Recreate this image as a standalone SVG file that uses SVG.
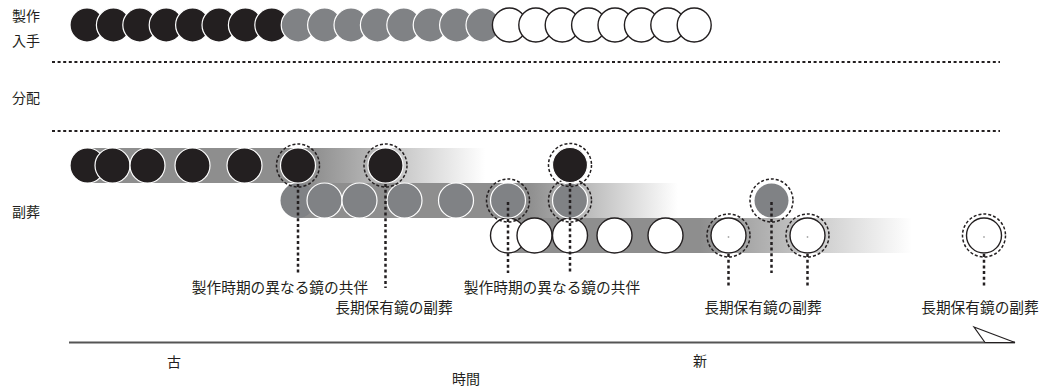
<svg xmlns="http://www.w3.org/2000/svg" width="1046" height="390" viewBox="0 0 1046 390">
<defs>
<style>
text{font-family:"Noto Sans CJK JP","Noto Sans",sans-serif;fill:#231f20}
.lbl{font-size:14px}
.note{font-size:14.7px;text-anchor:middle}
.b{fill:#231f20;stroke:#fff;stroke-width:1.2}
.g{fill:#808285;stroke:#fff;stroke-width:1.2}
.g0{fill:#808285}
.w{fill:#fff;stroke:#231f20;stroke-width:1.4}
.sep{stroke:#231f20;stroke-width:2;stroke-dasharray:3 2.6;fill:none}
.ring{fill:none;stroke:#231f20;stroke-width:1.5;stroke-dasharray:3 2}
.lead{stroke:#231f20;stroke-width:2.5;stroke-dasharray:3 2.7;fill:none}
</style>
<linearGradient id="gr1" gradientUnits="userSpaceOnUse" x1="312" y1="0" x2="485" y2="0"><stop offset="0" stop-color="#8e8e8e"/><stop offset="1" stop-color="#fff"/></linearGradient>
<linearGradient id="gr2" gradientUnits="userSpaceOnUse" x1="528" y1="0" x2="678" y2="0"><stop offset="0" stop-color="#8e8e8e"/><stop offset="1" stop-color="#fff"/></linearGradient>
<linearGradient id="gr3" gradientUnits="userSpaceOnUse" x1="700" y1="0" x2="912" y2="0"><stop offset="0" stop-color="#8e8e8e"/><stop offset="1" stop-color="#fff"/></linearGradient>
</defs>
<rect width="1046" height="390" fill="#fff"/>

<g id="row-labels">
<text class="lbl" x="12" y="21">製作</text>
<text class="lbl" x="12" y="46">入手</text>
<text class="lbl" x="12" y="103">分配</text>
<text class="lbl" x="12" y="217">副葬</text>
</g>

<g id="separators">
<line class="sep" x1="52" y1="62" x2="1000" y2="62"/>
<line class="sep" x1="52" y1="131" x2="1000" y2="131"/>
</g>

<g id="production-row">
<circle class="b" cx="87" cy="25" r="17"/>
<circle class="b" cx="113.4" cy="25" r="17"/>
<circle class="b" cx="139.8" cy="25" r="17"/>
<circle class="b" cx="166.2" cy="25" r="17"/>
<circle class="b" cx="192.6" cy="25" r="17"/>
<circle class="b" cx="219" cy="25" r="17"/>
<circle class="b" cx="245.4" cy="25" r="17"/>
<circle class="b" cx="271.8" cy="25" r="17"/>
<circle class="g" cx="298.2" cy="25" r="17"/>
<circle class="g" cx="324.6" cy="25" r="17"/>
<circle class="g" cx="351" cy="25" r="17"/>
<circle class="g" cx="377.4" cy="25" r="17"/>
<circle class="g" cx="403.8" cy="25" r="17"/>
<circle class="g" cx="430.2" cy="25" r="17"/>
<circle class="g" cx="456.6" cy="25" r="17"/>
<circle class="g" cx="483" cy="25" r="17"/>
<circle class="w" cx="509.4" cy="25" r="17"/>
<circle class="w" cx="535.8" cy="25" r="17"/>
<circle class="w" cx="562.2" cy="25" r="17"/>
<circle class="w" cx="588.6" cy="25" r="17"/>
<circle class="w" cx="615" cy="25" r="17"/>
<circle class="w" cx="641.4" cy="25" r="17"/>
<circle class="w" cx="667.8" cy="25" r="17"/>
<circle class="w" cx="694.2" cy="25" r="17"/>
</g>

<g id="burial-row-black">
<rect x="87" y="148" width="400" height="35" fill="url(#gr1)"/>
<circle class="b" cx="87.5" cy="165.5" r="17.5"/>
<circle class="b" cx="112.5" cy="165.5" r="17.5"/>
<circle class="b" cx="147.5" cy="165.5" r="17.5"/>
<circle class="b" cx="192.5" cy="165.5" r="17.5"/>
<circle class="b" cx="244.5" cy="165.5" r="17.5"/>
</g>

<g id="burial-row-gray">
<rect x="298" y="183" width="382" height="35" fill="url(#gr2)"/>
<circle class="g0" cx="298" cy="200.5" r="17.5"/>
<circle class="g" cx="324.5" cy="200.5" r="17.5"/>
<circle class="g" cx="359.5" cy="200.5" r="17.5"/>
<circle class="g" cx="404.5" cy="200.5" r="17.5"/>
<circle class="g" cx="456" cy="200.5" r="17.5"/>
</g>

<g id="burial-row-white">
<rect x="508" y="218" width="406" height="35" fill="url(#gr3)"/>
<circle class="w" cx="508" cy="235.5" r="17.5"/>
<circle class="w" cx="534.5" cy="235.5" r="17.5"/>
<circle class="w" cx="570" cy="235.5" r="17.5"/>
<circle class="w" cx="614.5" cy="235.5" r="17.5"/>
<circle class="w" cx="665.5" cy="235.5" r="17.5"/>
<circle class="w" cx="728.5" cy="235.5" r="17.5"/>
<circle class="w" cx="807.5" cy="235.5" r="17.5"/>
</g>

<g id="row2-highlight">
<circle class="g" cx="508" cy="200.5" r="17.5"/>
<circle class="ring" cx="508" cy="200.5" r="21.5"/>
<circle class="g" cx="570" cy="200.5" r="17.5"/>
<circle class="ring" cx="570" cy="200.5" r="21.5"/>
<circle class="g0" cx="771.5" cy="200.5" r="17"/>
<circle class="ring" cx="771.5" cy="200.5" r="21.5"/>
</g>

<g id="row1-highlight">
<circle class="b" cx="298" cy="165.5" r="17.5"/>
<circle class="ring" cx="298" cy="165.5" r="21.5"/>
<circle class="b" cx="385.5" cy="165.5" r="17.5"/>
<circle class="ring" cx="385.5" cy="165.5" r="21.5"/>
<circle class="b" cx="570" cy="165" r="17.5"/>
<circle class="ring" cx="570" cy="165" r="21.5"/>
</g>

<g id="row3-highlight">
<circle class="ring" cx="728.5" cy="235.5" r="21.5"/>
<circle class="ring" cx="807.5" cy="235.5" r="21.5"/>
<circle class="w" cx="984" cy="235.5" r="17.5"/>
<circle class="ring" cx="984" cy="235.5" r="21.5"/>
<circle cx="728.5" cy="237" r="0.9" fill="#aaa"/>
<circle cx="807.5" cy="237" r="0.9" fill="#aaa"/>
<circle cx="984" cy="237" r="0.9" fill="#aaa"/>
</g>

<g id="connectors">
<line class="lead" x1="298" y1="184" x2="298" y2="273"/>
<line class="lead" x1="385.5" y1="184" x2="385.5" y2="288"/>
<line class="lead" x1="508" y1="202" x2="508" y2="273"/>
<line class="lead" x1="570" y1="183" x2="570" y2="273"/>
<line class="lead" x1="728.5" y1="254" x2="728.5" y2="288"/>
<line class="lead" x1="771.5" y1="202" x2="771.5" y2="273"/>
<line class="lead" x1="807.5" y1="254" x2="807.5" y2="288"/>
<line class="lead" x1="984" y1="254" x2="984" y2="288"/>
</g>

<g id="notes">
<text class="note" x="280" y="293">製作時期の異なる鏡の共伴</text>
<text class="note" x="394" y="313">長期保有鏡の副葬</text>
<text class="note" x="552" y="293">製作時期の異なる鏡の共伴</text>
<text class="note" x="763" y="313">長期保有鏡の副葬</text>
<text class="note" x="980" y="313">長期保有鏡の副葬</text>
</g>

<g id="time-axis">
<line x1="69" y1="342.5" x2="1015" y2="342.5" stroke="#555" stroke-width="1.8"/>
<polygon points="974,327 1015,342.5 985,342.5" fill="#fff" stroke="#231f20" stroke-width="1.2" stroke-linejoin="miter"/>
<text class="lbl" x="167" y="367">古</text>
<text class="lbl" x="693" y="366">新</text>
<text class="lbl" x="452" y="384">時間</text>
</g>
</svg>
